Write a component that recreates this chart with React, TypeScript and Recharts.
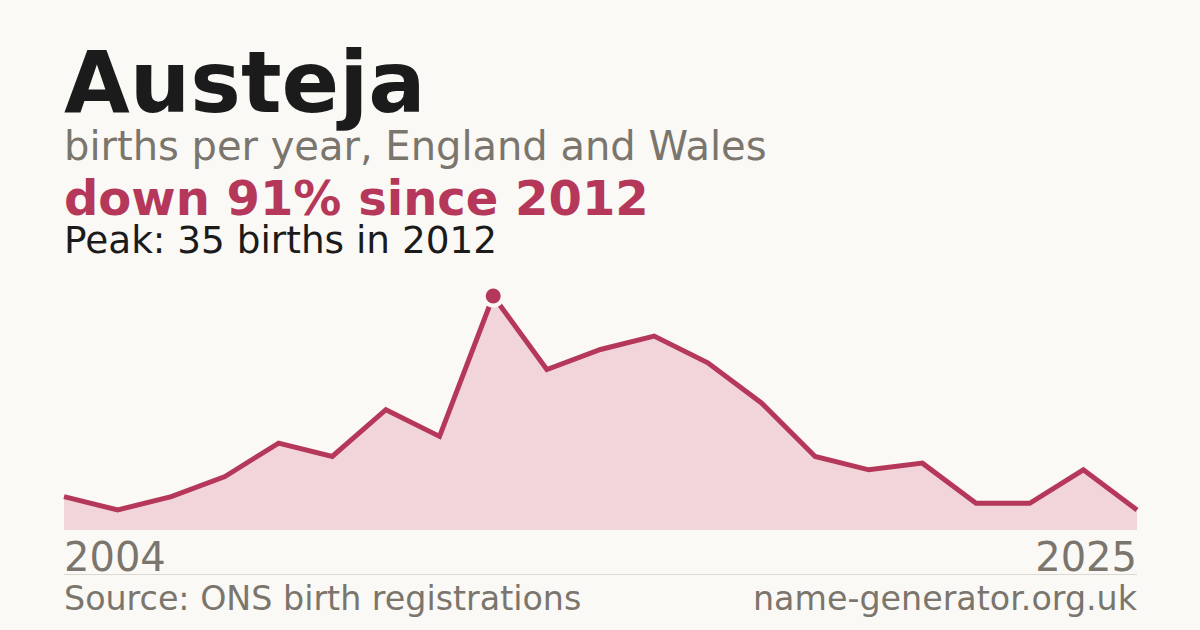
import React from 'react';
import { AreaChart, Area, XAxis, YAxis } from 'recharts';

const years = [2004, 2005, 2006, 2007, 2008, 2009, 2010, 2011, 2012, 2013, 2014, 2015, 2016, 2017, 2018, 2019, 2021, 2022, 2023, 2024, 2025];
const births = [5, 3, 5, 8, 13, 11, 18, 14, 35, 24, 27, 29, 25, 19, 11, 9, 10, 4, 4, 9, 3];
const tickYears = [2004, 2025];
const peakYear = 2012;

const data = years.map((year, i) => ({ year, births: births[i] }));

const BG = '#faf9f5';
const RED = '#b5385a';
const GREY = '#7a756d';
const FONT = '"DejaVu Sans", sans-serif';

const YearTick = (props: any) => {
  const { x, y, payload } = props;
  const first = payload.value === tickYears[0];
  return (
    <text x={x} y={y + 33} textAnchor={first ? 'start' : 'end'} fill={GREY} fontSize={40} fontFamily={FONT}>
      {payload.value}
    </text>
  );
};

const PeakDot = (props: any) => {
  const { cx, cy, payload } = props;
  if (payload.year !== peakYear) return <g key={`d-${payload.year}`} />;
  return (
    <g key="peak">
      <circle cx={cx} cy={cy} r={11.5} fill={BG} />
      <circle cx={cx} cy={cy} r={7.5} fill={RED} />
    </g>
  );
};

export default function App() {
  return (
    <div style={{ position: 'absolute', left: 0, top: 0, width: 1200, height: 630, background: BG, fontFamily: FONT }}>
      <AreaChart width={1200} height={630} data={data} margin={{ top: 296, right: 63, bottom: 0, left: 64 }}>
        <XAxis
          dataKey="year"
          ticks={tickYears}
          interval={0}
          tick={<YearTick />}
          tickLine={false}
          axisLine={false}
          height={100}
        />
        <YAxis hide domain={[0, 35]} />
        <Area
          type="linear"
          dataKey="births"
          stroke={RED}
          strokeWidth={5}
          fill="#f2d5db"
          fillOpacity={1}
          dot={<PeakDot />}
          activeDot={false}
          isAnimationActive={false}
        />
      </AreaChart>
      <svg width={1200} height={630} style={{ position: 'absolute', left: 0, top: 0, pointerEvents: 'none' }}>
        <text x={64} y={112} fontSize={85} fontWeight="bold" fill="#1b1b1b" fontFamily={FONT}>Austeja</text>
        <text x={64} y={160} fontSize={40} fill={GREY} fontFamily={FONT}>births per year, England and Wales</text>
        <text x={64} y={215} fontSize={48} fontWeight="bold" fill={RED} fontFamily={FONT}>down 91% since 2012</text>
        <text x={64} y={253} fontSize={37.4} fill="#1b1b1b" fontFamily={FONT}>Peak: 35 births in 2012</text>
        <line x1={64} x2={1137} y1={574.5} y2={574.5} stroke="#dcd9d2" strokeWidth={1} />
        <text x={64} y={610} fontSize={33.3} fill={GREY} fontFamily={FONT}>Source: ONS birth registrations</text>
        <text x={1137} y={610} fontSize={33.3} fill={GREY} textAnchor="end" fontFamily={FONT}>name-generator.org.uk</text>
      </svg>
    </div>
  );
}
